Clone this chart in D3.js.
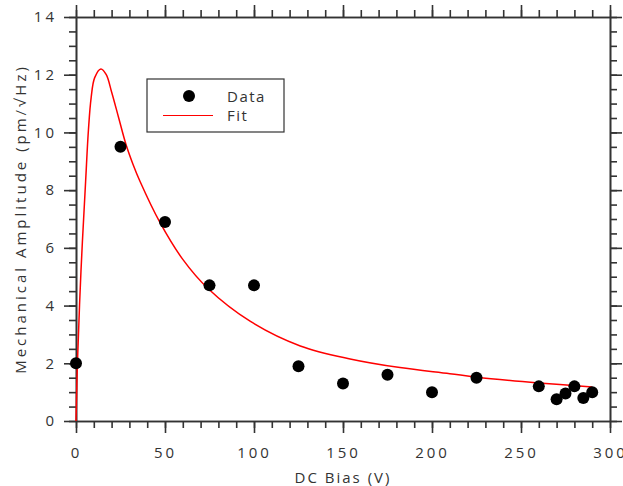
<html>
<head>
<title>Mechanical Amplitude vs DC Bias</title>
<script src="https://cdnjs.cloudflare.com/ajax/libs/d3/7.8.5/d3.min.js"></script>
<style>
  body { margin: 0; background: #fff; }
  text { font-family: "Open Sans", sans-serif; fill: #333; }
  .axis path, .axis line { stroke: #333; stroke-width: 1.6; }
</style>
</head>
<body>
<svg class="chart"></svg>
<script>
// measured points
var biasV = [0, 25, 50, 75, 100, 125, 150, 175, 200, 225, 260, 270, 275, 280, 285, 290];
var ampData = [2.0, 9.5, 6.9, 4.7, 4.7, 1.9, 1.3, 1.6, 1.0, 1.5, 1.2, 0.75, 0.95, 1.2, 0.8, 1.0];

// fit curve
var fitV = [0, 0.8, 2.8, 5.4, 7, 8.5, 10.5, 14, 17, 20, 24, 28, 32, 36, 47, 60, 74, 98, 126, 154, 182, 210, 225, 260, 290];
var fitA = [0, 2.0, 5.2, 8.3, 10.1, 11.2, 11.9, 12.2, 12.0, 11.4, 10.5, 9.6, 8.9, 8.3, 6.9, 5.6, 4.6, 3.45, 2.6, 2.15, 1.85, 1.64, 1.52, 1.32, 1.18];

var xTicks = [0, 50, 100, 150, 200, 250, 300];
var yTicks = [0, 2, 4, 6, 8, 10, 12, 14];

var W = 623, H = 486;
var margin = {top: 17, right: 13, bottom: 65, left: 76};
var width = W - margin.left - margin.right;
var height = H - margin.top - margin.bottom;

var svg = d3.select(".chart").attr("width", W).attr("height", H);
var chart = svg.append("g").attr("transform", "translate(" + margin.left + "," + margin.top + ")");

var x = d3.scaleLinear().domain([0, 300]).range([0, width]);
var y = d3.scaleLinear().domain([0, 14]).range([height, 0]);

var xMinor = d3.range(0, 301, 10);
var yMinor = d3.range(0, 14.01, 0.5);

function minor(axis) {
  return axis.tickFormat("").tickSizeInner(7).tickSizeOuter(0);
}

// minor ticks on all four sides
chart.append("g").attr("class", "axis").attr("transform", "translate(0," + height + ")")
  .call(minor(d3.axisBottom(x).tickValues(xMinor)));
chart.append("g").attr("class", "axis")
  .call(minor(d3.axisTop(x).tickValues(xMinor)));
chart.append("g").attr("class", "axis")
  .call(minor(d3.axisLeft(y).tickValues(yMinor)));
chart.append("g").attr("class", "axis").attr("transform", "translate(" + width + ",0)")
  .call(minor(d3.axisRight(y).tickValues(yMinor)));

// major ticks
chart.append("g").attr("class", "axis").attr("transform", "translate(0," + height + ")")
  .call(d3.axisBottom(x).tickValues(xTicks).tickSizeInner(12).tickSizeOuter(0).tickPadding(14));
chart.append("g").attr("class", "axis")
  .call(d3.axisTop(x).tickValues(xTicks).tickSizeInner(12).tickSizeOuter(0).tickFormat(""));
chart.append("g").attr("class", "axis")
  .call(d3.axisLeft(y).tickValues(yTicks).tickSizeInner(12).tickSizeOuter(0).tickPadding(7));
chart.append("g").attr("class", "axis").attr("transform", "translate(" + width + ",0)")
  .call(d3.axisRight(y).tickValues(yTicks).tickSizeInner(12).tickSizeOuter(0).tickFormat(""));

chart.selectAll(".axis text").style("font-size", "15px").style("letter-spacing", "3px").attr("fill", "#333");

// fit line
var line = d3.line().x(function(d, i) { return x(fitV[i]); }).y(function(d) { return y(d); })
  .curve(d3.curveCatmullRom.alpha(0.5));
chart.append("path").datum(fitA).attr("d", line)
  .attr("fill", "none").attr("stroke", "#f00").attr("stroke-width", 1.5);

// data dots
chart.selectAll(".dot").data(ampData).enter().append("circle")
  .attr("class", "dot")
  .attr("cx", function(d, i) { return x(biasV[i]); })
  .attr("cy", function(d) { return y(d); })
  .attr("r", 6).attr("fill", "#000");

// axis titles
svg.append("text").attr("x", margin.left + width / 2).attr("y", 483)
  .attr("text-anchor", "middle").style("font-size", "15px").style("letter-spacing", "2px")
  .text("DC Bias (V)");
svg.append("text").attr("transform", "translate(26," + (margin.top + height / 2) + ") rotate(-90)")
  .attr("text-anchor", "middle").style("font-size", "15px").style("letter-spacing", "3px")
  .text("Mechanical Amplitude (pm/\u221AHz)");

// legend
var lg = svg.append("g");
lg.append("rect").attr("x", 147).attr("y", 79).attr("width", 137).attr("height", 53)
  .attr("fill", "#fff").attr("stroke", "#333").attr("stroke-width", 1.2);
lg.append("circle").attr("cx", 189).attr("cy", 96).attr("r", 6).attr("fill", "#000");
lg.append("line").attr("x1", 163).attr("x2", 213).attr("y1", 115.5).attr("y2", 115.5)
  .attr("stroke", "#f00").attr("stroke-width", 1.2);
lg.append("text").attr("x", 227).attr("y", 102).style("font-size", "15px").style("letter-spacing", "1.5px").text("Data");
lg.append("text").attr("x", 227).attr("y", 121).style("font-size", "15px").style("letter-spacing", "1.5px").text("Fit");
</script>
</body>
</html>
